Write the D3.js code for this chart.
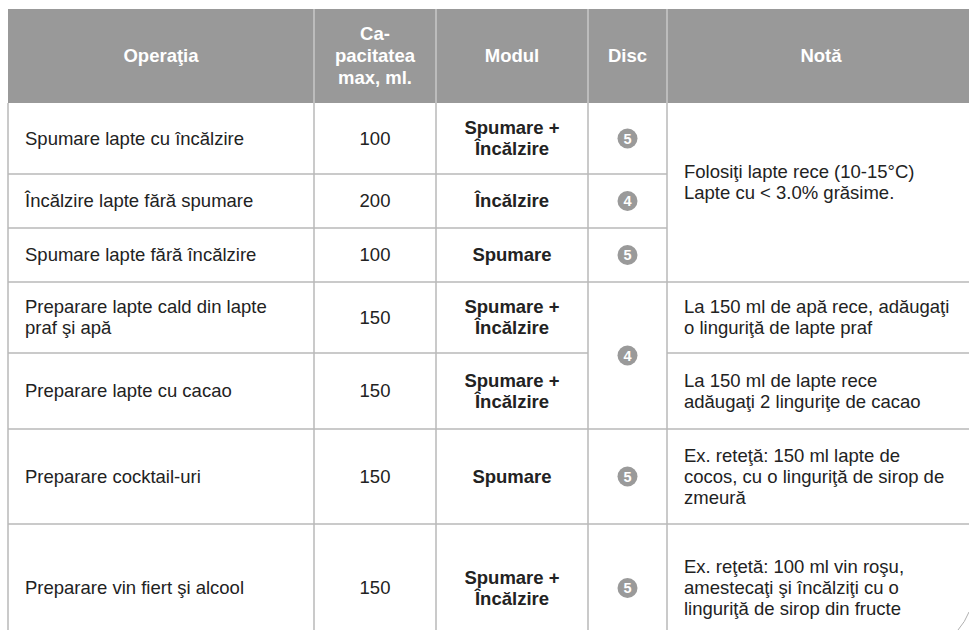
<!DOCTYPE html>
<html>
<head>
<meta charset="utf-8">
<script src="https://cdn.jsdelivr.net/npm/d3@7"></script>
<style>
  html, body { margin: 0; padding: 0; background: #ffffff; overflow: hidden; }
  svg { display: block; }
</style>
</head>
<body>
<svg id="chart" width="969" height="630"></svg>
<script>
// ---------- DATA ----------
const headers = [["Operaţia"], ["Ca-", "pacitatea", "max, ml."], ["Modul"], ["Disc"], ["Notă"]];
const operations = [
  ["Spumare lapte cu încălzire"],
  ["Încălzire lapte fără spumare"],
  ["Spumare lapte fără încălzire"],
  ["Preparare lapte cald din lapte", "praf şi apă"],
  ["Preparare lapte cu cacao"],
  ["Preparare cocktail-uri"],
  ["Preparare vin fiert şi alcool"]
];
const capacities = [100, 200, 100, 150, 150, 150, 150];
const modes = [
  ["Spumare +", "Încălzire"],
  ["Încălzire"],
  ["Spumare"],
  ["Spumare +", "Încălzire"],
  ["Spumare +", "Încălzire"],
  ["Spumare"],
  ["Spumare +", "Încălzire"]
];
// disc values with how many rows each cell spans
const discs = [5, 4, 5, 4, 5, 5];
const discSpans = [1, 1, 1, 2, 1, 1];
// notes with how many rows each cell spans
const notes = [
  ["Folosiţi lapte rece (10-15°C)", "Lapte cu < 3.0% grăsime.", ""],
  ["La 150 ml de apă rece, adăugaţi", "o linguriţă de lapte praf"],
  ["La 150 ml de lapte rece", "adăugaţi 2 linguriţe de cacao"],
  ["Ex. reteţă: 150 ml lapte de", "cocos, cu o linguriţă de sirop de", "zmeură"],
  ["Ex. reţetă: 100 ml vin roşu,", "amestecaţi şi încălziţi cu o", "linguriţă de sirop din fructe"]
];
const noteSpans = [3, 1, 1, 1, 1];

// ---------- LAYOUT ----------
const W = 969, H = 630;
const colEdges = [8, 314, 436, 588, 667, 975];
const headerTop = 9, headerH = 94;
const rowHeights = [71, 54, 54, 71, 76, 95, 128];
const fontSize = 18.5, lineH = 21;
const font = "'Liberation Sans', Arial, Helvetica, sans-serif";
const headerFill = "#999999", gridColor = "#b8b8b8", textColor = "#222222";

const svg = d3.select("#chart");

const rowEdges = [headerTop + headerH, ...Array.from(d3.cumsum(rowHeights), v => v + headerTop + headerH)];
const yEdge = d3.scaleLinear().domain(d3.range(rowEdges.length)).range(rowEdges);
const xEdge = d3.scaleLinear().domain(d3.range(colEdges.length)).range(colEdges);
const colMid = i => (xEdge(i) + xEdge(i + 1)) / 2;
const spanMid = (start, span) => (yEdge(start) + yEdge(start + span)) / 2;

function multiText(g, lines, x, cy, anchor, weight, fill, lh) {
  const n = lines.length;
  const t = g.append("text")
    .attr("x", x)
    .attr("text-anchor", anchor)
    .attr("font-family", font)
    .attr("font-size", fontSize)
    .attr("font-weight", weight)
    .attr("fill", fill);
  lines.forEach((ln, i) => {
    t.append("tspan")
      .attr("x", x)
      .attr("y", cy + (i - (n - 1) / 2) * lh)
      .attr("dy", "0.35em")
      .text(ln);
  });
}

// ---------- HEADER ----------
const hg = svg.append("g");
hg.append("rect")
  .attr("x", xEdge(0)).attr("y", headerTop)
  .attr("width", xEdge(5) - xEdge(0)).attr("height", headerH)
  .attr("fill", headerFill);
hg.selectAll("line.hsep").data(d3.range(1, 5)).join("line")
  .attr("class", "hsep")
  .attr("x1", d => xEdge(d)).attr("x2", d => xEdge(d))
  .attr("y1", headerTop).attr("y2", headerTop + headerH)
  .attr("stroke", "#c8c8c8").attr("stroke-width", 1.5);
headers.forEach((h, i) => {
  multiText(hg, h, colMid(i), headerTop + headerH / 2, "middle", "bold", "#ffffff", 22);
});

// ---------- GRID ----------
const gg = svg.append("g");
function hLines(colIdx, spans) {
  let r = 0;
  const edges = [];
  spans.forEach(s => { r += s; edges.push(r); });
  edges.forEach(e => {
    gg.append("line")
      .attr("x1", xEdge(colIdx)).attr("x2", xEdge(colIdx + 1))
      .attr("y1", yEdge(e)).attr("y2", yEdge(e))
      .attr("stroke", gridColor).attr("stroke-width", 1.5);
  });
}
const ones = rowHeights.map(() => 1);
hLines(0, ones);
hLines(1, ones);
hLines(2, ones);
hLines(3, discSpans);
hLines(4, noteSpans);
gg.selectAll("line.vsep").data(d3.range(0, 6)).join("line")
  .attr("class", "vsep")
  .attr("x1", d => xEdge(d)).attr("x2", d => xEdge(d))
  .attr("y1", yEdge(0)).attr("y2", yEdge(rowHeights.length))
  .attr("stroke", gridColor).attr("stroke-width", 1.5);

// ---------- BODY ----------
const bg = svg.append("g");
operations.forEach((op, r) => {
  multiText(bg, op, xEdge(0) + 17, spanMid(r, 1), "start", "normal", textColor, lineH);
});
capacities.forEach((c, r) => {
  multiText(bg, [String(c)], colMid(1), spanMid(r, 1), "middle", "normal", textColor, lineH);
});
modes.forEach((m, r) => {
  multiText(bg, m, colMid(2), spanMid(r, 1), "middle", "bold", textColor, lineH);
});
let dr = 0;
discs.forEach((d, i) => {
  const cy = spanMid(dr, discSpans[i]);
  bg.append("circle")
    .attr("cx", colMid(3)).attr("cy", cy).attr("r", 10)
    .attr("fill", "#9a9a9a");
  bg.append("text")
    .attr("x", colMid(3)).attr("y", cy).attr("dy", "0.36em")
    .attr("text-anchor", "middle")
    .attr("font-family", font).attr("font-size", 14.5).attr("font-weight", "bold")
    .attr("fill", "#ffffff")
    .text(d);
  dr += discSpans[i];
});
let nr = 0;
notes.forEach((n, i) => {
  multiText(bg, n, xEdge(4) + 17, spanMid(nr, noteSpans[i]), "start", "normal", textColor, lineH);
  nr += noteSpans[i];
});

// ---------- page curl decoration ----------
svg.append("path")
  .attr("d", `M${W - 11},${H} Q${W - 4},${H - 8} ${W},${H - 18}`)
  .attr("fill", "none").attr("stroke", "#b0b0b0").attr("stroke-width", 1);
</script>
</body>
</html>
